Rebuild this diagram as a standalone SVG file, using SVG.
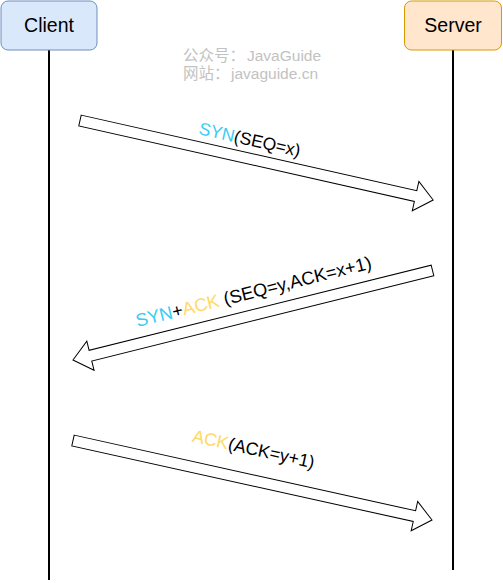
<svg xmlns="http://www.w3.org/2000/svg" width="503" height="583" viewBox="0 0 503 583">
<style>
.lifeline{stroke:#000;stroke-width:2;fill:none}
.arrow{fill:#fff;stroke:#000;stroke-width:1;stroke-linejoin:miter}
.lbl{font-family:"Liberation Sans",Arial,sans-serif;font-size:17.5px;fill:#000}
.node{font-family:"Liberation Sans",Arial,sans-serif;font-size:19.5px;fill:#000;text-anchor:middle}
.wm{font-family:"Liberation Sans","Noto Sans CJK SC",sans-serif;font-size:15.5px;fill:#c2c2c2}
.syn{fill:#3CCBF4}
.ack{fill:#FFD966}
</style>
<rect width="503" height="583" fill="#fff"/>
<g id="connectors">
<line class="lifeline" x1="49" y1="50" x2="49" y2="580"/>
<line class="lifeline" x1="453" y1="50" x2="453" y2="570"/>
<path class="arrow" transform="translate(80 120.5) rotate(12.69)" d="M0,-5.5 L344,-5.5 L344,-15 L362,0 L344,15 L344,5.5 L0,5.5 Z"/>
<path class="arrow" transform="translate(432.5 270.5) rotate(166.02)" d="M0,-5.5 L352.5,-5.5 L352.5,-15 L370.5,0 L352.5,15 L352.5,5.5 L0,5.5 Z"/>
<path class="arrow" transform="translate(73 440.5) rotate(12.49)" d="M0,-5.5 L349.7,-5.5 L349.7,-15 L367.7,0 L349.7,15 L349.7,5.5 L0,5.5 Z"/>
<text class="lbl" transform="translate(198 134) rotate(12.7)"><tspan class="syn">SYN</tspan>(SEQ=x)</text>
<text class="lbl" style="font-size:18.2px" transform="translate(137.5 327) rotate(-14)"><tspan class="syn">SYN</tspan>+<tspan class="ack">ACK</tspan> (SEQ=y,ACK=x+1)</text>
<text class="lbl" style="font-size:17.8px" transform="translate(191.5 441.5) rotate(12.5)"><tspan class="ack">ACK</tspan>(ACK=y+1)</text>
</g>
<g id="client">
<rect x="1" y="1" width="96" height="49" rx="7" ry="7" fill="#dae8fc" stroke="#6c8ebf" stroke-width="1"/>
<text class="node" x="49" y="32">Client</text>
</g>
<g id="server">
<rect x="404.5" y="1" width="97" height="49" rx="7" ry="7" fill="#ffe6cc" stroke="#d79b00" stroke-width="1"/>
<text class="node" x="453" y="32">Server</text>
</g>
<g id="watermark">
<text class="wm" x="183" y="61">公众号：<tspan x="247">JavaGuide</tspan></text>
<text class="wm" x="183" y="79">网站：<tspan x="231">javaguide.cn</tspan></text>
</g>
</svg>
